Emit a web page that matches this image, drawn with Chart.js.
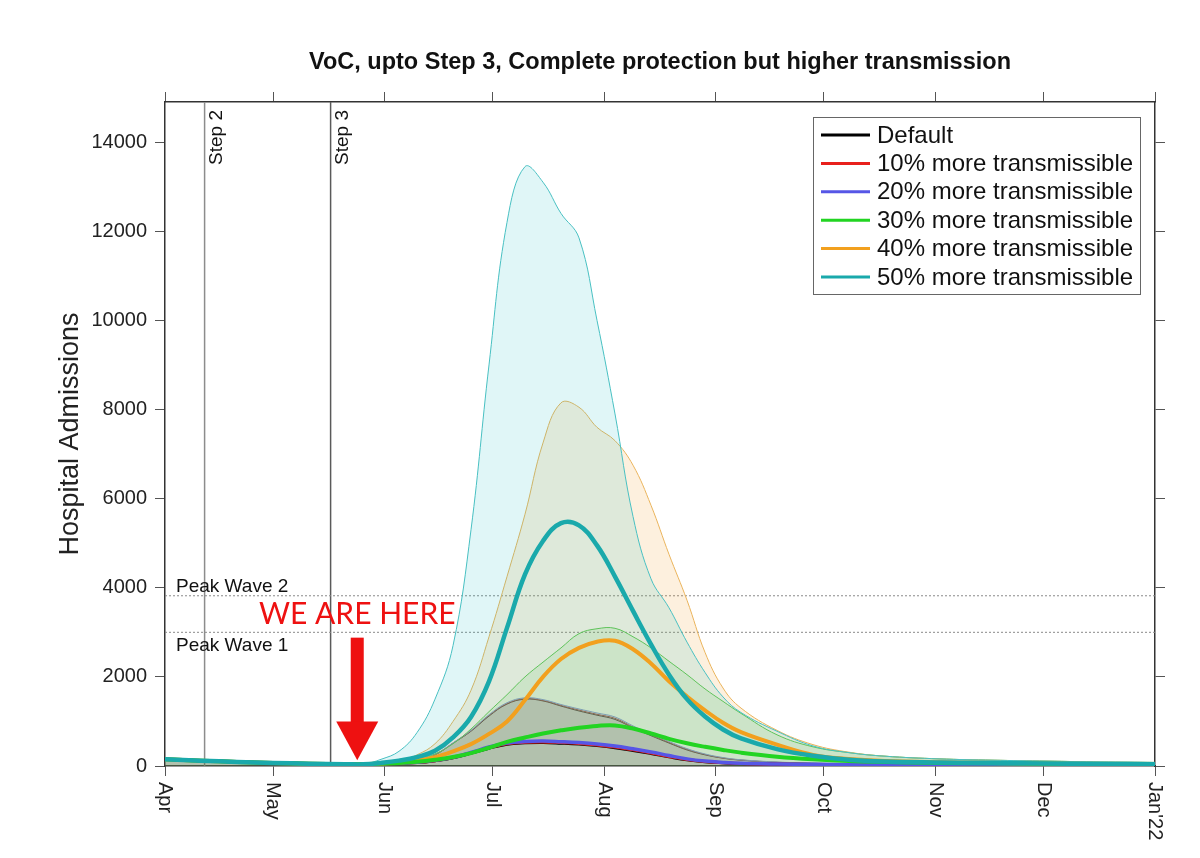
<!DOCTYPE html>
<html lang="en">
<head>
<meta charset="UTF-8">
<title>VoC, upto Step 3</title>
<script src="https://cdn.jsdelivr.net/npm/chart.js"></script>
<style>
  body { margin: 0; background: #fff; }
  #wrap { width: 1200px; height: 858px; }
</style>
</head>
<body>
<div id="wrap"><canvas id="chart" width="1200" height="858"></canvas></div>
<script>
// days since 1 Apr 2021
const days = [0,10,20,30,40,50,55,60,65,70,75,80,85,90,95,100,105,110,115,120,125,130,135,140,145,150,155,160,170,180,190,200,215,230,245,260,275];
const monthDays = [0,30,61,91,122,153,183,214,244,275];
const monthLabels = ['Apr','May','Jun','Jul','Aug','Sep','Oct','Nov','Dec',"Jan'22"];
const yTicks = [0,2000,4000,6000,8000,10000,12000,14000];
const yMax = 14900;

const seriesLabels = ['Default','10% more transmissible','20% more transmissible','30% more transmissible','40% more transmissible','50% more transmissible'];

// central estimates
const defaultCentre = [150,120,92,68,52,42,38, 55,64,76,118,183,288,400,490,520,528,513,492,458,412,350,280,205,138,96,72,55, 42,35,32,30,28,27,26,25,25];
const p10Centre     = [150,120,92,68,52,42,38, 55,65,78,120,188,295,410,500,532,540,525,505,470,425,362,292,215,145,100,75,57, 43,36,33,30,28,27,26,25,25];
const p20Centre     = [150,120,92,68,52,42,38, 55,66,82,130,195,305,425,515,550,560,545,525,495,450,385,315,235,160,110,80,60, 45,38,35,32,30,28,27,26,25];
const p30Centre     = [150,120,92,68,52,42,38, 55,70,95,140,200,290,410,540,640,730,800,860,900,910,840,730,610,510,430,360,300, 210,150,110,90,70,60,50,45,40];
const p40Centre     = [150,120,92,68,52,42,38, 55,75,120,200,330,490,720,1000,1480,2000,2400,2650,2790,2810,2620,2300,1900,1560,1250,970,760, 480,250,160,115,85,65,55,45,40];
const p50Centre     = [150,120,92,68,52,42,38, 70,120,200,340,640,1100,1900,3100,4300,5050,5450,5400,4950,4250,3480,2730,2050,1500,1110,820,620, 380,230,140,100,80,65,55,45,40];

// upper edges of the shaded ranges
const defaultUpper = [150,120,92,68,52,42,38, 60,78,120,250,510,780,1120,1390,1500,1460,1345,1235,1140,1045,855,680,515,360,250,175,130, 80,60,50,46,42,38,36,34,33];
const p10Upper     = [150,120,92,68,52,42,38, 60,80,122,255,515,790,1135,1400,1510,1470,1360,1255,1160,1070,875,700,530,375,260,180,135, 85,62,52,48,43,40,38,35,35];
const p20Upper     = [150,120,92,68,52,42,38, 60,82,125,262,520,800,1150,1420,1530,1490,1380,1280,1190,1100,900,720,550,390,270,190,140, 90,65,55,50,45,40,40,35,35];
const p30Upper     = [150,120,92,68,52,42,38, 70,100,170,270,500,830,1220,1600,2000,2330,2650,2970,3080,3090,2900,2650,2350,2050,1730,1450,1180, 700,430,300,220,160,130,110,90,80];
const p40Upper     = [150,120,92,68,52,42,38, 80,110,250,500,1000,1700,2900,4250,5650,7250,8150,8050,7600,7300,6750,5850,4750,3720,2550,1750,1300, 800,480,310,220,160,130,110,90,80];
const p50Upper     = [150,120,92,68,52,42,38, 150,330,750,1500,2700,5300,9000,12200,13450,13100,12400,11850,10000,7900,5600,4200,3550,2780,2100,1550,1200, 780,450,300,220,160,130,110,90,80];

// annotations
const stepDays = [11, 46];
const stepLabels = ['Step 2', 'Step 3'];
const peakLevels = [3820, 3000];
const peakLabels = ['Peak Wave 2', 'Peak Wave 1'];
const hereDay = 53.4;

const FONT = '"Liberation Sans", Arial, Helvetica, sans-serif';
Chart.defaults.font.family = FONT;

const centres = [defaultCentre, p10Centre, p20Centre, p30Centre, p40Centre, p50Centre];
const uppers = [defaultUpper, p10Upper, p20Upper, p30Upper, p40Upper, p50Upper];
const lineColours = ['#000000', '#e8201c', '#5656e6', '#22d422', '#f2a01e', '#1aa9ab'];
const lineWidths = [3, 3, 3.5, 4, 4, 4.5];
const bandEdge = ['#4a3c3c', '#a84a4a', '#8c98e0', '#55cc55', '#eab45c', '#48c0c2'];
const bandFill = ['rgba(0,0,0,0.10)', 'rgba(220,30,30,0.08)', 'rgba(60,60,230,0.07)',
                  'rgba(40,200,40,0.11)', 'rgba(240,150,20,0.14)', 'rgba(0,180,190,0.12)'];
const centreOrder = [6, 5, 4, 2, 3, 1];

const toPoints = vals => days.map((d, i) => ({ x: d, y: vals[i] }));

const datasets = [];
seriesLabels.forEach((label, i) => {
  datasets.push({
    label: label + ' range',
    data: toPoints(uppers[i]),
    borderColor: bandEdge[i],
    borderWidth: 1,
    backgroundColor: bandFill[i],
    fill: 'origin',
    pointRadius: 0,
    tension: 0.4,
    order: 20 - i
  });
  datasets.push({
    label: label,
    data: toPoints(centres[i]),
    borderColor: lineColours[i],
    borderWidth: lineWidths[i],
    fill: false,
    pointRadius: 0,
    tension: 0.4,
    order: centreOrder[i],
    legendIndex: i
  });
});

const monthTicks = s => { s.ticks = monthDays.map(v => ({ value: v })); };
const valueTicks = s => { s.ticks = yTicks.map(v => ({ value: v })); };

const decor = {
  id: 'decor',
  beforeDatasetsDraw(chart) {
    const ctx = chart.ctx, a = chart.chartArea, xs = chart.scales.x, ys = chart.scales.y;
    ctx.save();
    // step lines
    stepDays.forEach((d, i) => {
      const px = xs.getPixelForValue(d);
      ctx.strokeStyle = i === 0 ? '#8c8c8c' : '#5a5a5a';
      ctx.lineWidth = 1.5;
      ctx.beginPath(); ctx.moveTo(px, a.top); ctx.lineTo(px, a.bottom); ctx.stroke();
    });
    // peak wave lines
    ctx.setLineDash([2, 2]);
    ctx.strokeStyle = '#8a8a8a';
    ctx.lineWidth = 1;
    peakLevels.forEach(v => {
      const py = ys.getPixelForValue(v);
      ctx.beginPath(); ctx.moveTo(a.left, py); ctx.lineTo(a.right, py); ctx.stroke();
    });
    ctx.restore();
  },
  afterDraw(chart) {
    const ctx = chart.ctx, a = chart.chartArea, xs = chart.scales.x, ys = chart.scales.y;
    ctx.save();

    // title
    ctx.fillStyle = '#111';
    ctx.font = 'bold 23.5px ' + FONT;
    ctx.textAlign = 'center';
    ctx.textBaseline = 'alphabetic';
    ctx.fillText('VoC, upto Step 3, Complete protection but higher transmission', (a.left + a.right) / 2, 69);

    // month labels, rotated clockwise
    ctx.font = '20px ' + FONT;
    ctx.fillStyle = '#222';
    xs.ticks.forEach(t => {
      const px = xs.getPixelForValue(t.value);
      ctx.save();
      ctx.translate(px, a.bottom + 16);
      ctx.rotate(Math.PI / 2);
      ctx.textAlign = 'left';
      ctx.textBaseline = 'middle';
      ctx.fillText(monthLabels[monthDays.indexOf(t.value)], 0, 0);
      ctx.restore();
    });

    // step labels
    ctx.font = '19px ' + FONT;
    ctx.fillStyle = '#111';
    stepDays.forEach((d, i) => {
      const px = xs.getPixelForValue(d);
      ctx.save();
      ctx.translate(px + 3, a.top + 8);
      ctx.rotate(-Math.PI / 2);
      ctx.textAlign = 'right';
      ctx.textBaseline = 'top';
      ctx.fillText(stepLabels[i], 0, 0);
      ctx.restore();
    });

    // peak wave labels
    ctx.textAlign = 'left';
    ctx.textBaseline = 'alphabetic';
    ctx.fillText(peakLabels[0], a.left + 11, ys.getPixelForValue(peakLevels[0]) - 4);
    ctx.fillText(peakLabels[1], a.left + 11, ys.getPixelForValue(peakLevels[1]) + 19);

    // WE ARE HERE
    const hx = xs.getPixelForValue(hereDay);
    ctx.fillStyle = '#ee1111';
    ctx.font = '30px Lato, "Open Sans", sans-serif';
    ctx.textAlign = 'center';
    ctx.fillText('WE ARE HERE', hx, ys.getPixelForValue(3190));
    const yTop = ys.getPixelForValue(2880), yBase = ys.getPixelForValue(1000), yTip = ys.getPixelForValue(130);
    ctx.fillRect(hx - 6.5, yTop, 13, yBase - yTop + 1);
    ctx.beginPath();
    ctx.moveTo(hx - 21, yBase); ctx.lineTo(hx + 21, yBase); ctx.lineTo(hx, yTip); ctx.closePath();
    ctx.fill();

    // legend inside the plot
    const items = chart.data.datasets.filter(d => d.legendIndex !== undefined)
      .sort((p, q) => p.legendIndex - q.legendIndex);
    const w = 327, rowH = 28.4, h = 177;
    const x0 = a.right - 15 - w, y0 = a.top + 15;
    ctx.fillStyle = '#fff';
    ctx.fillRect(x0, y0, w, h);
    ctx.strokeStyle = '#666';
    ctx.lineWidth = 1;
    ctx.strokeRect(x0 + 0.5, y0 + 0.5, w, h);
    ctx.font = '24px ' + FONT;
    ctx.textAlign = 'left';
    ctx.textBaseline = 'middle';
    items.forEach((d, i) => {
      const cy = y0 + 18 + i * rowH;
      ctx.strokeStyle = d.borderColor;
      ctx.lineWidth = 3;
      ctx.beginPath(); ctx.moveTo(x0 + 8, cy); ctx.lineTo(x0 + 57, cy); ctx.stroke();
      ctx.fillStyle = '#111';
      ctx.fillText(d.label, x0 + 64, cy + 1);
    });
    ctx.restore();
  }
};

const tickGrid = { drawOnChartArea: false, drawTicks: true, tickLength: 10, color: '#555', lineWidth: 1 };
const frame = { display: true, color: '#333', width: 1.5 };

new Chart(document.getElementById('chart'), {
  type: 'line',
  data: { datasets },
  options: {
    responsive: false,
    animation: false,
    events: [],
    layout: { padding: { top: 92, left: 0, right: 0, bottom: 0 } },
    plugins: { legend: { display: false }, tooltip: { enabled: false }, title: { display: false } },
    scales: {
      x: {
        type: 'linear', position: 'bottom', min: 0, max: 275,
        afterBuildTicks: monthTicks,
        afterFit: s => { s.height = 92; },
        ticks: { display: false },
        grid: tickGrid, border: frame
      },
      xTop: {
        type: 'linear', position: 'top', min: 0, max: 275,
        afterBuildTicks: monthTicks,
        afterFit: s => { s.height = 10; },
        ticks: { display: false },
        grid: tickGrid, border: frame
      },
      y: {
        type: 'linear', position: 'left', min: 0, max: yMax,
        afterBuildTicks: valueTicks,
        afterFit: s => { s.width = 165; },
        ticks: { font: { size: 20 }, color: '#222', padding: 8, callback: v => String(v) },
        grid: tickGrid, border: frame,
        title: { display: true, text: 'Hospital Admissions', font: { size: 27 }, color: '#222', padding: { top: 54, bottom: 0 } }
      },
      yRight: {
        type: 'linear', position: 'right', min: 0, max: yMax,
        afterBuildTicks: valueTicks,
        afterFit: s => { s.width = 45; },
        ticks: { display: false },
        grid: tickGrid, border: frame
      }
    }
  },
  plugins: [decor]
});
</script>
</body>
</html>
